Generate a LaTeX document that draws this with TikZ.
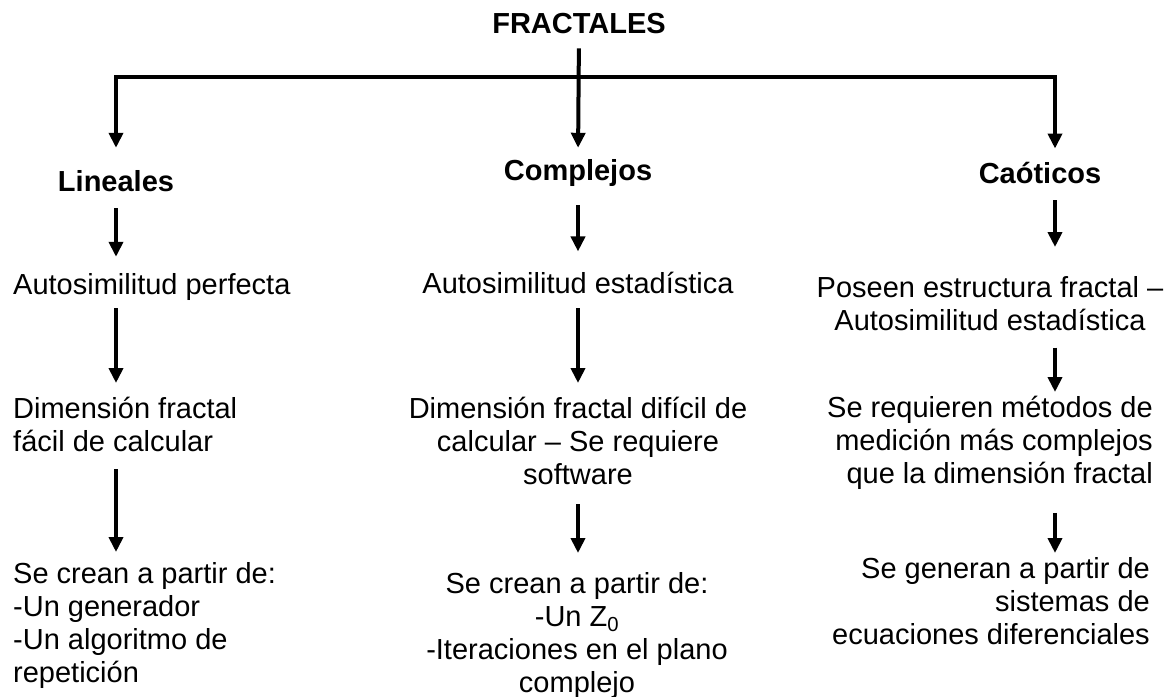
\documentclass[tikz,border=0pt]{standalone}
\usepackage{fontspec}
\setmainfont{Liberation Sans}
\usetikzlibrary{arrows.meta,positioning}

\begin{document}
\begin{tikzpicture}[x=1pt,y=-1pt,>={Triangle[width=14pt,length=15pt]},
        every node/.style={inner sep=0pt,font=\fontsize{29}{33}\selectfont},
        head/.style={font=\fontsize{29}{33}\selectfont\bfseries},
        flow/.style={line width=4pt}]
    \useasboundingbox (0,0) rectangle (1169,696);
        \node[head,anchor=base] (fr) at (579,33) {FRACTALES};
        \node[head,anchor=base] (lin) at (116,191) {Lineales};
        \node[head,anchor=base] (com) at (578,180) {Complejos};
        \node[head,anchor=base] (cao) at (1040,183) {Caóticos};
        \coordinate (barL) at (116,77);
        \coordinate (barR) at (1055,77);

        \node[anchor=base west] (perfL) at (13,294) {Autosimilitud perfecta};
        \node[anchor=north west,align=left] (dimL) at (13,397) {Dimensión fractal\\fácil de calcular};
        \node[anchor=north west,align=left] (genL) at (13,562) {Se crean a partir de:\\-Un generador\\-Un algoritmo de\\repetición};

        \node[anchor=base] (estM) at (578,293) {Autosimilitud estadística};
        \node[anchor=north,align=center] (dimM) at (578,397) {Dimensión fractal difícil de\\calcular – Se requiere\\software};
        \node[anchor=north,align=center] (genM) at (577,572) {Se crean a partir de:\\-Un Z\textsubscript{0}\\-Iteraciones en el plano\\complejo};

        \node[anchor=north,align=center] (estR) at (990,276) {Poseen estructura fractal –\\Autosimilitud estadística};
        \node[anchor=north east,align=right] (reqR) at (1153,396) {Se requieren métodos de\\medición más complejos\\que la dimensión fractal};
        \node[anchor=north east,align=right] (genR) at (1150,557) {Se generan a partir de\\sistemas de\\ecuaciones diferenciales};

        \draw[flow,<->,shorten <=22pt,shorten >=13pt] (barL |- lin.north) -- (barL) -- (barR) -- (barR |- cao.north);
        \draw[flow,->,shorten <=15pt,shorten >=11pt] (fr.south) -- (com.north);

        \draw[flow,->,shorten <=17pt,shorten >=16pt] (lin.south) -- (lin.south |- perfL.north);
        \draw[flow,->,shorten <=8pt,shorten >=14pt] (lin.south |- perfL.south) -- (lin.south |- dimL.north);
        \draw[flow,->,shorten <=17pt,shorten >=10pt] (lin.south |- dimL.south) -- (lin.south |- genL.north);

        \draw[flow,->,shorten <=19pt,shorten >=20pt] (com.south) -- (estM.north);
        \draw[flow,->,shorten <=15pt,shorten >=14pt] (estM.south) -- (estM.south |- dimM.north);
        \draw[flow,->,shorten <=19pt,shorten >=19pt] (dimM.south) -- (dimM.south |- genM.north);

        \draw[flow,->,shorten <=17pt,shorten >=29pt] (barR |- cao.south) -- (barR |- estR.north);
        \draw[flow,->,shorten <=17pt,shorten >=4pt] (barR |- estR.south) -- (barR |- reqR.north);
        \draw[flow,->,shorten <=23pt,shorten >=4pt] (barR |- reqR.south) -- (barR |- genR.north);
    \end{tikzpicture}
\end{document}
